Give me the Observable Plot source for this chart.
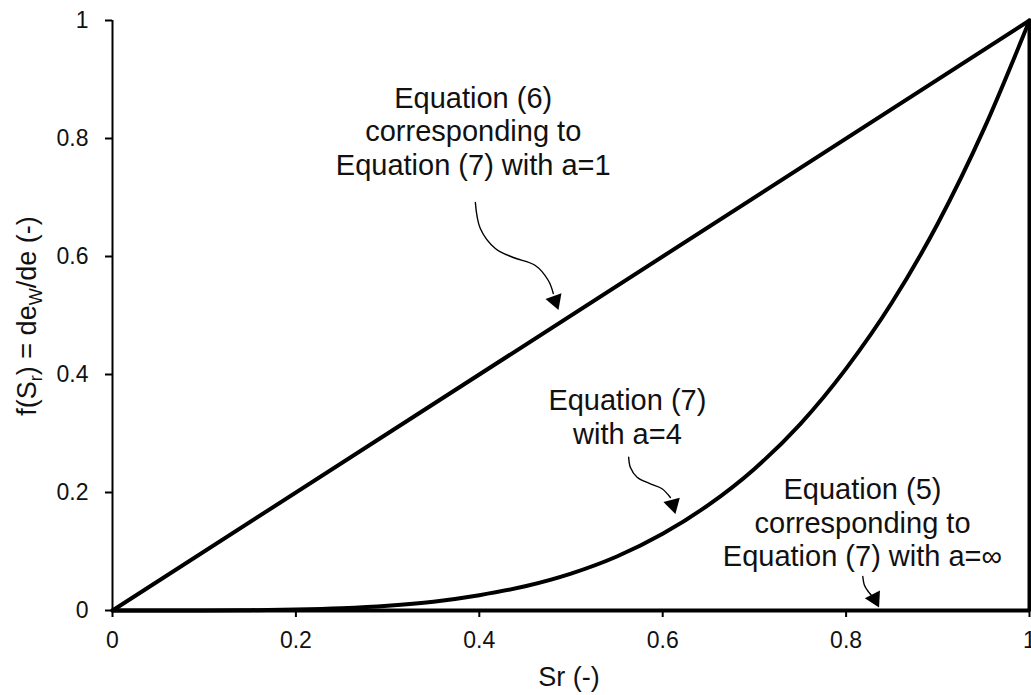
<!DOCTYPE html>
<html>
<head>
<meta charset="utf-8">
<script src="https://cdn.jsdelivr.net/npm/d3@7"></script>
<script src="https://cdn.jsdelivr.net/npm/@observablehq/plot@0.6"></script>
<style>
  html, body { margin: 0; padding: 0; background: #fff; overflow: hidden; }
  #chart { width: 1031px; height: 695px; }
</style>
</head>
<body>
<div id="chart"></div>
<script>
// ---- data ----
const sr = [0, 0.05, 0.1, 0.15, 0.2, 0.25, 0.3, 0.35, 0.4, 0.45, 0.5, 0.55, 0.6, 0.65, 0.7, 0.75, 0.8, 0.85, 0.9, 0.95, 1];
const fA4 = [0, 0, 0.0001, 0.0005, 0.0016, 0.0039, 0.0081, 0.015, 0.026, 0.041, 0.0625, 0.0915, 0.13, 0.179, 0.24, 0.316, 0.41, 0.522, 0.656, 0.815, 1];
const srA1 = [0, 1];
const fA1 = [0, 1];
const srInf = [0, 1, 1];
const fInf = [0, 0, 1];

const xTicks = [0, 0.2, 0.4, 0.6, 0.8, 1];
const yTicks = [0, 0.2, 0.4, 0.6, 0.8, 1];

const labelTexts = [
  "Equation (6)\ncorresponding to\nEquation (7) with a=1",
  "Equation (7)\nwith a=4",
  "Equation (5)\ncorresponding to\nEquation (7) with a=∞"
];
const labelX = [0.3934, 0.5615, 0.8179];
const labelY = [0.8136, 0.3297, 0.150];

// annotation arrows (paths + heads)
const arrowId = [0,0,0,0,0,0,0, 1,1,1,1,1,1, 2,2,2,2];
const arrowX = [0.3957, 0.4011, 0.4175, 0.4371, 0.4611, 0.4753, 0.4807,
                0.5629, 0.5647, 0.5721, 0.5866, 0.5993, 0.6084,
                0.8182, 0.8201, 0.8247, 0.8287];
const arrowY = [0.6915, 0.6475, 0.6136, 0.5983, 0.5847, 0.5593, 0.5373,
                0.2598, 0.2429, 0.2259, 0.2147, 0.2063, 0.1915,
                0.0576, 0.0424, 0.0310, 0.0237];
const headX = [0.4827, 0.6111, 0.8311];
const headY = [0.5250, 0.1795, 0.0200];
const headAngle = [160, 165, 153];

// ---- tables built from arrays ----
const a4 = sr.map((x, i) => ({x, y: fA4[i]}));
const a1 = srA1.map((x, i) => ({x, y: fA1[i]}));
const aInf = srInf.map((x, i) => ({x, y: fInf[i]}));
const labels = labelTexts.map((t, i) => ({t, x: labelX[i], y: labelY[i]}));
const arrowPts = arrowX.map((x, i) => ({x, y: arrowY[i], id: arrowId[i]}));
const heads = headX.map((x, i) => ({x, y: headY[i], a: headAngle[i]}));

const FONT = "'Liberation Sans', Arial, sans-serif";
const INK = "#111";

const chart = Plot.plot({
  width: 1031,
  height: 695,
  marginLeft: 112,
  marginRight: 2,
  marginTop: 20,
  marginBottom: 85,
  style: {fontFamily: FONT, background: "#fff", overflow: "visible"},
  x: {domain: [0, 1]},
  y: {domain: [0, 1]},
  marks: [
    Plot.axisX({ticks: xTicks, tickFormat: d => String(d), tickSize: 7, tickPadding: 14,
      fontSize: 23, stroke: "#000", strokeWidth: 2, strokeOpacity: 1, fill: INK, label: null}),
    Plot.axisY({ticks: yTicks, tickFormat: d => String(d), tickSize: 7, tickPadding: 17,
      fontSize: 23, stroke: "#000", strokeWidth: 2, strokeOpacity: 1, fill: INK, label: null}),
    Plot.ruleX([0], {stroke: "#000", strokeWidth: 2}),
    Plot.ruleY([0], {stroke: "#000", strokeWidth: 2.5}),
    Plot.line(aInf, {x: "x", y: "y", stroke: "#000", strokeWidth: 4, strokeLinejoin: "miter"}),
    Plot.line(a1, {x: "x", y: "y", stroke: "#000", strokeWidth: 4}),
    Plot.line(a4, {x: "x", y: "y", stroke: "#000", strokeWidth: 4, curve: "monotone-x"}),
    Plot.line(arrowPts, {x: "x", y: "y", z: "id", stroke: "#000", strokeWidth: 1.4, curve: "catmull-rom"}),
    Plot.dot(heads, {x: "x", y: "y", symbol: "triangle", r: 6.3, fill: "#000", stroke: "none", rotate: "a"}),
    Plot.text(labels, {x: "x", y: "y", text: "t", fontSize: 29, lineHeight: 1.16,
      lineAnchor: "middle", textAnchor: "middle", fill: INK, fontFamily: FONT})
  ]
});

document.getElementById("chart").appendChild(chart);

// axis titles (with subscripts as real text)
const svg = d3.select(chart);
const yl = svg.append("text")
  .attr("transform", "translate(36,316) rotate(-90)")
  .attr("text-anchor", "middle")
  .attr("font-family", FONT)
  .attr("font-size", 27)
  .attr("fill", INK);
yl.append("tspan").text("f(S");
yl.append("tspan").attr("font-size", 18).attr("dy", 6).text("r");
yl.append("tspan").attr("dy", -6).text(") = de");
yl.append("tspan").attr("font-size", 18).attr("dy", 6).text("W");
yl.append("tspan").attr("dy", -6).text("/de (-)");

svg.append("text")
  .attr("x", 569)
  .attr("y", 686)
  .attr("text-anchor", "middle")
  .attr("font-family", FONT)
  .attr("font-size", 27)
  .attr("fill", INK)
  .text("Sr (-)");
</script>
</body>
</html>
